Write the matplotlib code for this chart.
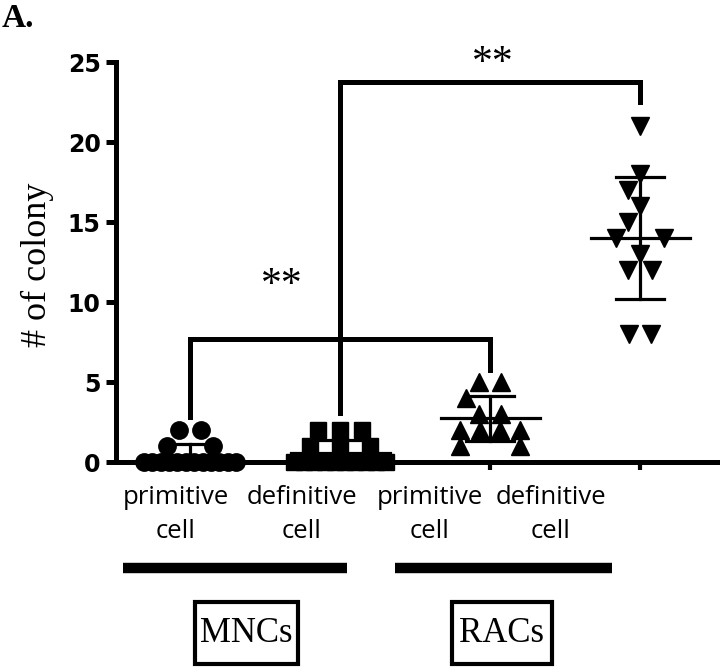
"""
Colony counts: MNCs vs RACs, primitive / definitive cells.
"""

import numpy as np
import matplotlib
matplotlib.use("Agg")
import matplotlib.pyplot as plt
from matplotlib.lines import Line2D
from matplotlib.patches import Rectangle

# ---- data ----
groups = ["MNC primitive", "MNC definitive", "RAC primitive", "RAC definitive"]
tick_labels = ["primitive\ncell", "definitive\ncell", "primitive\ncell", "definitive\ncell"]
box_labels = ["MNCs", "RACs"]
mnc_primitive = [2, 2, 1, 1, 0, 0, 0, 0, 0, 0, 0, 0, 0, 0, 0, 0]
mnc_definitive = [2, 2, 2, 1, 1, 1, 0, 0, 0, 0, 0, 0, 0, 0, 0, 0]
rac_primitive = [5, 5, 4, 3, 3, 2, 2, 2, 2, 1, 1]
rac_definitive = [21, 18, 17, 16, 15, 14, 14, 13, 12, 12, 8, 8]
yticks = [0, 5, 10, 15, 20, 25]

series = [mnc_primitive, mnc_definitive, rac_primitive, rac_definitive]
markers = ["o", "s", "^", "v"]
msizes = [12.5, 11.5, 12.5, 12.5]

PX_X = 150.0  # pixels per category
PX_Y = 16.0   # pixels per y unit


def swarm_offsets(vals, d=20.0, base=22.0, maxw=30.0, maxw0=46.0):
    """Simple row-wise beeswarm, returns offsets in data units."""
    vals = np.asarray(vals, dtype=float)
    offs = np.zeros(len(vals))
    placed = []
    for v in sorted(set(vals), reverse=True):
        idx = np.where(vals == v)[0]
        n = len(idx)
        y = v * PX_Y
        if n == 1:
            for s in [0, -1, 1, -2, 2, -3, 3]:
                x = s * 12.0
                if all(np.hypot(x - px, y - py) >= d for px, py in placed):
                    break
            xs = [x]
        else:
            cap = 2 * (maxw0 if v == 0 else maxw) / (n - 1)
            sp = base
            while sp < cap:
                xs = (np.arange(n) - (n - 1) / 2) * sp
                if all(np.hypot(xx - px, y - py) >= d
                       for xx in xs for px, py in placed):
                    break
                sp += 2
            sp = min(sp, cap)
            xs = (np.arange(n) - (n - 1) / 2) * sp
        for i, xx in zip(idx, xs):
            offs[i] = xx / PX_X
            placed.append((xx, y))
    return offs


fig = plt.figure(figsize=(7.2, 6.67), dpi=100)
ax = fig.add_axes([116 / 720, 1 - 462 / 667, 1 - 116 / 720, 400 / 667])

for i, vals in enumerate(series):
    xo = swarm_offsets(vals)
    ax.plot(i + xo, vals, linestyle="none", marker=markers[i],
            markersize=msizes[i], color="black", clip_on=False, zorder=3)
    m = np.mean(vals)
    sd = np.std(vals, ddof=1)
    ax.plot([i - 0.33, i + 0.33], [m, m], color="black", lw=2.3,
            clip_on=False, zorder=4)
    ax.plot([i - 0.16, i + 0.16], [m + sd, m + sd], color="black", lw=2.3,
            clip_on=False, zorder=4)
    ax.plot([i - 0.16, i + 0.16], [m - sd, m - sd], color="black", lw=2.3,
            clip_on=False, zorder=4)
    ax.plot([i, i], [m - sd, m + sd], color="black", lw=2.3,
            clip_on=False, zorder=4)

# significance brackets
ax.plot([0, 0, 2, 2], [2.8, 7.7, 7.7, 5.75], color="black", lw=3.6,
        solid_joinstyle="miter", clip_on=False, zorder=2)
ax.plot([1, 1, 3, 3], [3.06, 23.75, 23.75, 22.5], color="black", lw=3.6,
        solid_joinstyle="miter", clip_on=False, zorder=2)
ax.text(0.613, 11.0, "**", ha="center", va="center", fontsize=30,
        family="Liberation Serif")
ax.text(2.02, 24.9, "**", ha="center", va="center", fontsize=30,
        family="Liberation Serif", clip_on=False)

ax.set_xlim((116 - 190) / PX_X, (720 - 190) / PX_X)
ax.set_ylim(0, 25)
ax.set_yticks(yticks)
ax.set_xticks(range(len(groups)))
ax.set_xticklabels([])
for s in ["top", "right"]:
    ax.spines[s].set_visible(False)
for s in ["left", "bottom"]:
    ax.spines[s].set_linewidth(3.6)
ax.tick_params(axis="y", direction="out", length=7, width=3.6, pad=4,
               labelsize=17)
ax.tick_params(axis="x", direction="out", length=6, width=3)
for lab in ax.get_yticklabels():
    lab.set_fontweight("bold")
    lab.set_family("DejaVu Sans")

# category labels (placed by hand under the axis)
label_px = [176, 302, 430, 551]
for xp, lab in zip(label_px, tick_labels):
    fig.text(xp / 720, 1 - 485 / 667, lab, ha="center", va="top",
             fontsize=18.5, family="Open Sans", linespacing=1.5)

# group bars
for x0, x1 in [(123, 347), (395, 612)]:
    fig.add_artist(Line2D([x0 / 720, x1 / 720], [1 - 568 / 667, 1 - 568 / 667],
                          color="black", lw=7.5, solid_capstyle="butt"))

# boxed group names
for (x0, x1), lab in zip([(195, 298), (452, 552)], box_labels):
    fig.add_artist(Rectangle((x0 / 720, 1 - 664 / 667), (x1 - x0) / 720,
                             62 / 667, fill=False, edgecolor="black", lw=3))
    fig.text((x0 + x1) / 2 / 720, 1 - 634 / 667, lab, ha="center",
             va="center", fontsize=25, family="Liberation Serif")

fig.text(37 / 720, 1 - 265 / 667, "# of colony", rotation=90, ha="center",
         va="center", fontsize=26, family="Liberation Serif")
fig.text(2 / 720, 1 - 3 / 667, "A.", ha="left", va="top", fontsize=24,
         fontweight="bold", family="Liberation Serif")

fig.savefig("out.png", dpi=100)
